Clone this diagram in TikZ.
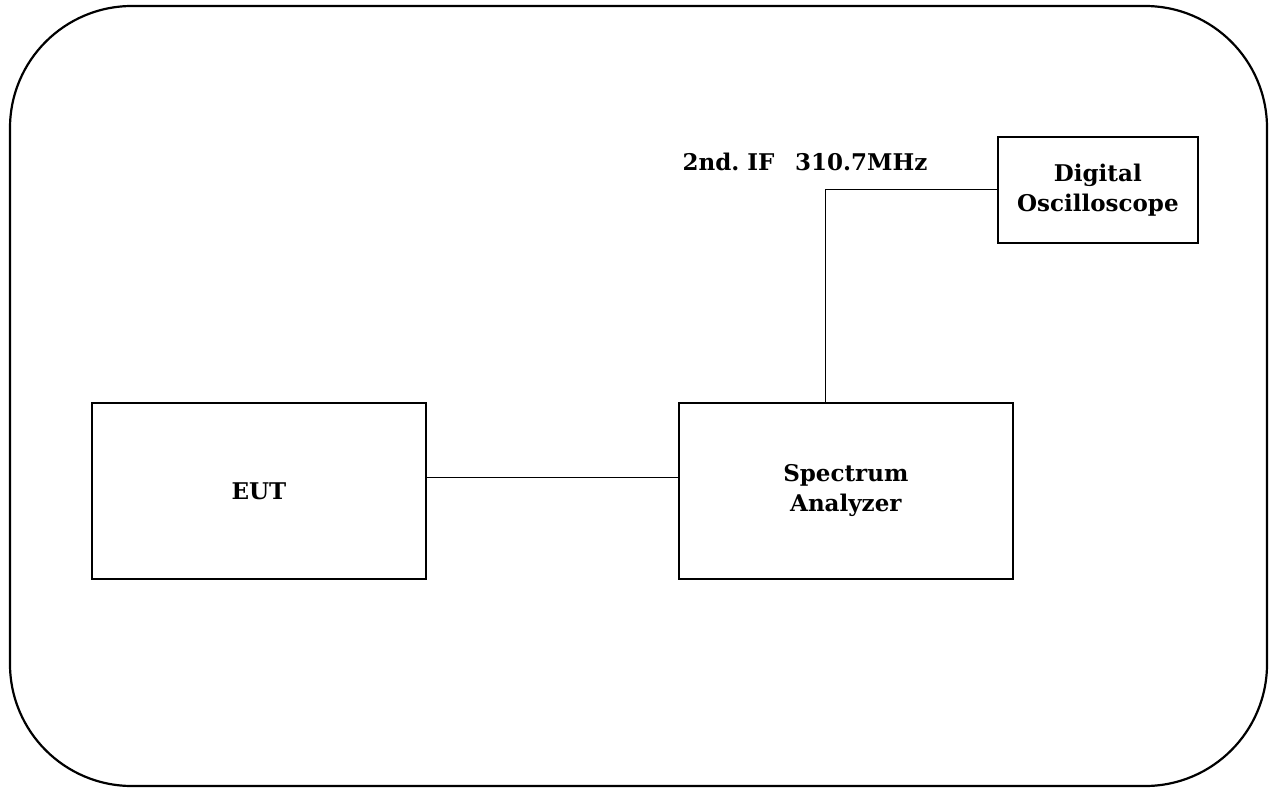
\documentclass[tikz,border=0pt]{standalone}
\usepackage{fontspec}
\setmainfont{DejaVu Serif}
\begin{document}
\begin{tikzpicture}[x=1pt,y=-1pt,
    unit/.style={draw, line width=1.7pt, anchor=north west, inner sep=0pt,
      font=\bfseries\fontsize{23}{30}\selectfont, align=center},
    wire/.style={line width=0.9pt}]

        \useasboundingbox (0,0) rectangle (1276,789);

        \draw[line width=2.2pt, rounded corners=122pt] (10,6) rectangle (1267,786);

        \def\boxH{176}
        \def\boxW{334}

        \node[unit, minimum width=\boxW pt, minimum height=\boxH pt] (eut) at (91,402) {EUT};
        \node[unit, minimum width=\boxW pt, minimum height=\boxH pt] (sa) at (678,402) {Spectrum\\Analyzer};
        \node[unit, minimum width=200pt, minimum height=106pt] (osc) at (997,136) {Digital\\Oscilloscope};

        \node[anchor=base west, font=\bfseries\fontsize{23}{25}\selectfont] (iflabel) at (679,170) {2nd.\ IF\hspace{0.9em}310.7MHz};

        \draw[wire] ([yshift=13pt]eut.east) -- ([yshift=13pt]sa.west);
        \draw[wire] (osc.west) -| ([xshift=-20pt]sa.north);

      \end{tikzpicture}
\end{document}
